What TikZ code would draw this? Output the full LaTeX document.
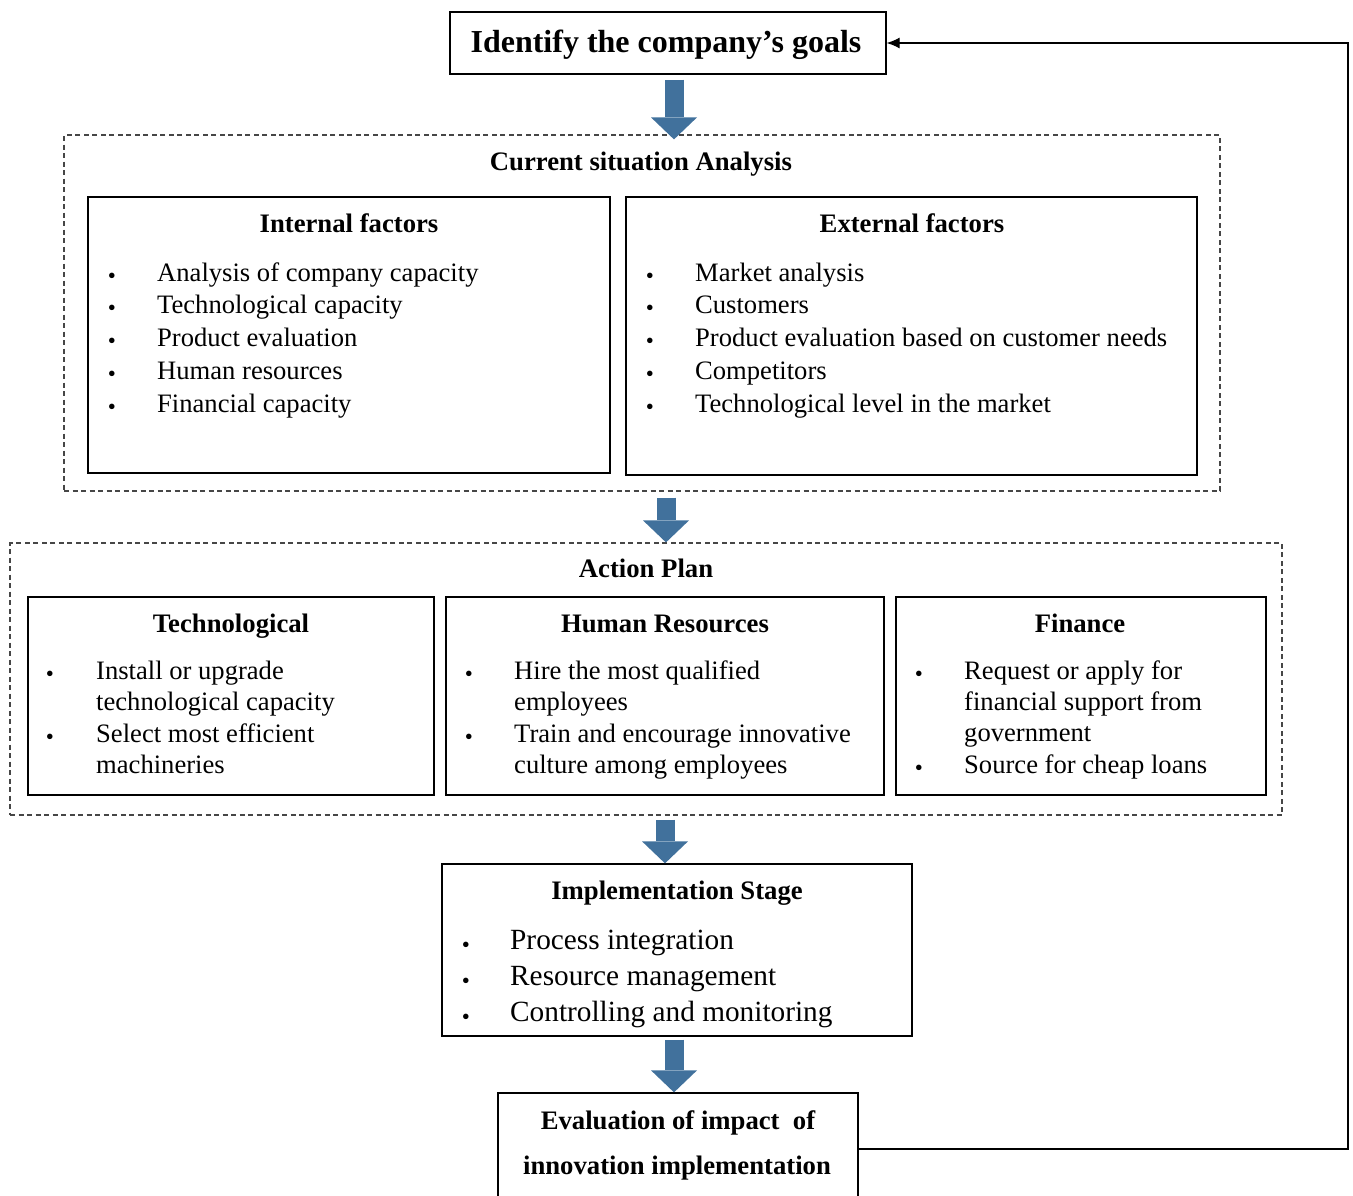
\documentclass[tikz,border=0pt]{standalone}
\usepackage{fontspec}
\setmainfont{Liberation Serif}
\usetikzlibrary{arrows.meta,fit}

\definecolor{flowblue}{RGB}{65,113,156}
\definecolor{framegray}{RGB}{70,70,70}

% one bullet point: name, bullet x, text x, baseline y, text
\newcommand\bulletline[5]{%
  \node[dotmark] (#1b) at (#2,#4) {•};
  \node[itemtext] (#1) at (#3,#4) {#5};}
% a continuation line of a bullet point: name, text x, baseline y, text
\newcommand\moreline[4]{%
  \node[itemtext] (#1) at (#2,#3) {#4};}

\begin{document}
\begin{tikzpicture}[x=1pt,y=-1pt,
  box/.style={draw=black, line width=1.3pt, inner sep=0pt},
  frame/.style={draw=framegray, line width=1.2pt, dash pattern=on 5pt off 3.5pt, inner sep=0pt},
  heading/.style={anchor=base, inner sep=0pt, font=\fontsize{26.7}{30}\selectfont\bfseries},
  itemtext/.style={anchor=base west, inner sep=0pt, font=\fontsize{26.6}{30}\selectfont},
  bigitem/.style={itemtext, font=\fontsize{29.3}{33}\selectfont},
  dotmark/.style={anchor=base, inner sep=0pt, yshift=-2pt, font=\fontsize{23}{25}\selectfont},
  bigarrow/.style={draw=flowblue, line width=19pt,
    -{Triangle[width=46pt,length=22pt,line width=0pt]}},
  feedback/.style={draw=black, line width=1.2pt,
    -{Latex[length=13pt,width=11pt]}},
]
\useasboundingbox (0,0) rectangle (1353,1195);
\clip (0,0) rectangle (1353,1195);

% ---- goal ----
\node[box, fit={(450,12) (886,74)}] (goal) {};
\node[anchor=base, inner sep=0pt, font=\fontsize{32}{36}\selectfont\bfseries]
  (goaltxt) at (666,52) {Identify the company’s goals};

% ---- current situation analysis ----
\node[frame, fit={(64,135) (1220,491)}] (sit) {};
\node[heading] (sittxt) at (641,170) {Current situation Analysis};

\node[box, fit={(88,197) (610,473)}] (int) {};
\node[heading] (inttxt) at (349,232) {Internal factors};
\bulletline{i1}{112}{157}{281}{Analysis of company capacity}
\bulletline{i2}{112}{157}{313}{Technological capacity}
\bulletline{i3}{112}{157}{346}{Product evaluation}
\bulletline{i4}{112}{157}{379}{Human resources}
\bulletline{i5}{112}{157}{412}{Financial capacity}

\node[box, fit={(626,197) (1197,475)}] (ext) {};
\node[heading] (exttxt) at (912,232) {External factors};
\bulletline{e1}{650}{695}{281}{Market analysis}
\bulletline{e2}{650}{695}{313}{Customers}
\bulletline{e3}{650}{695}{346}{Product evaluation based on customer needs}
\bulletline{e4}{650}{695}{379}{Competitors}
\bulletline{e5}{650}{695}{412}{Technological level in the market}

% ---- action plan ----
\node[frame, fit={(10,543) (1282,815)}] (plan) {};
\node[heading] (plantxt) at (646,577) {Action Plan};

\node[box, fit={(28,597) (434,795)}] (tech) {};
\node[heading] (techtxt) at (231,632) {Technological};
\bulletline{t1}{50}{96}{679}{Install or upgrade}
\moreline{t1a}{96}{710}{technological capacity}
\bulletline{t2}{50}{96}{742}{Select most efficient}
\moreline{t2a}{96}{773}{machineries}

\node[box, fit={(446,597) (884,795)}] (hr) {};
\node[heading] (hrtxt) at (665,632) {Human Resources};
\bulletline{h1}{469}{514}{679}{Hire the most qualified}
\moreline{h1a}{514}{710}{employees}
\bulletline{h2}{469}{514}{742}{Train and encourage innovative}
\moreline{h2a}{514}{773}{culture among employees}

\node[box, fit={(896,597) (1266,795)}] (fin) {};
\node[heading] (fintxt) at (1080,632) {Finance};
\bulletline{f1}{919}{964}{679}{Request or apply for}
\moreline{f1a}{964}{710}{financial support from}
\moreline{f1b}{964}{741}{government}
\bulletline{f2}{919}{964}{773}{Source for cheap loans}

% ---- implementation ----
\node[box, fit={(442,864) (912,1036)}] (impl) {};
\node[heading] (impltxt) at (677,899) {Implementation Stage};
\node[dotmark] (m1b) at (466,950) {•};
\node[bigitem] (m1) at (510,949) {Process integration};
\node[dotmark] (m2b) at (466,986) {•};
\node[bigitem] (m2) at (510,985) {Resource management};
\node[dotmark] (m3b) at (466,1022) {•};
\node[bigitem] (m3) at (510,1021) {Controlling and monitoring};

% ---- evaluation ----
\node[box, fit={(498,1093) (858,1205)}] (eval) {};
\node[heading] (evaltxt1) at (678,1129) {Evaluation of impact\ \ of};
\node[heading] (evaltxt2) at (677,1174) {innovation implementation};

% ---- flow arrows ----
\draw[bigarrow] ([xshift=6pt,yshift=-5pt]goal.south) -- ([xshift=6pt,yshift=-5pt]goal.south |- sit.north);
\draw[bigarrow] ([xshift=20pt,yshift=-6pt]plan.north |- sit.south) -- ([xshift=20pt]plan.north);
\draw[bigarrow] ([xshift=-12pt,yshift=-4pt]impl.north |- plan.south) -- ([xshift=-12pt]impl.north);
\draw[bigarrow] ([xshift=-4pt,yshift=-3pt]eval.north |- impl.south) -- ([xshift=-4pt]eval.north);

% ---- feedback loop ----
\coordinate (loop) at (1348,0);
\draw[feedback] (eval.east) -- (eval.east -| loop) -- (goal.east -| loop) -- (goal.east);
\end{tikzpicture}
\end{document}
